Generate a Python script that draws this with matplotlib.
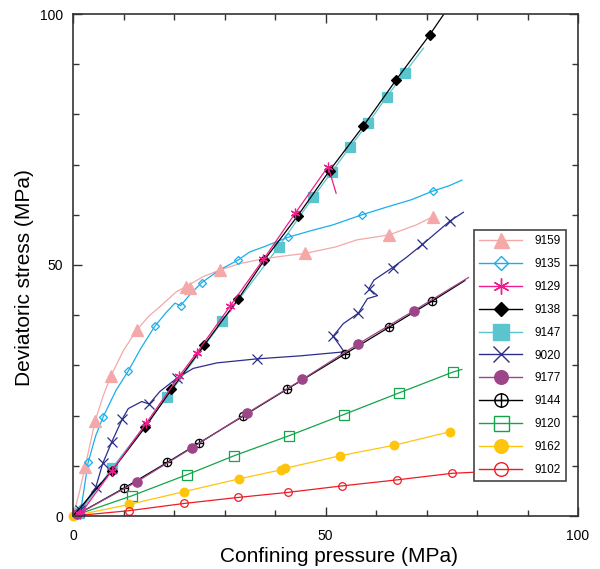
import matplotlib
matplotlib.use("Agg")
import matplotlib.pyplot as plt
from matplotlib.path import Path
from matplotlib.lines import Line2D
from matplotlib.ticker import MultipleLocator

plt.rcParams['font.family'] = ['Liberation Sans', 'DejaVu Sans']

# ---------------- data ----------------
names = ["9159", "9135", "9129", "9138", "9147", "9020", "9177", "9144", "9120", "9162", "9102"]

# 9159
l9159_x = [0, 1.2, 2.4, 4.4, 6, 7.5, 10, 12.6, 15, 17.2, 20.5, 22.4, 25.8, 29.1, 33.1, 37, 41, 45.9, 52, 56.2, 62.6, 68, 71.2]
l9159_y = [0, 4.5, 9.8, 19.0, 24, 27.9, 33, 37.0, 39.8, 41.7, 44.7, 45.7, 47.7, 49.0, 50.3, 51.1, 51.7, 52.3, 53.6, 55.0, 56.0, 58.0, 59.6]
m9159_x = [2.4, 4.4, 7.5, 12.6, 22.4, 23.2, 29.1, 45.9, 62.6, 71.2]
m9159_y = [9.8, 19.0, 27.9, 37.0, 45.7, 45.4, 49.0, 52.3, 56.0, 59.6]

# 9135
l9135_x = [0, 1.6, 3.0, 4.5, 6.0, 8.5, 10.95, 13.5, 16.2, 18.5, 20.2, 21.3, 23.5, 25.5, 29, 32.7, 35, 38, 42.5, 47, 51.5, 57.2, 62, 67, 71.2, 74.5, 77]
l9135_y = [0, 1.5, 10.7, 16, 19.8, 25, 28.9, 33.5, 37.8, 40.6, 42.4, 41.9, 44.5, 46.5, 49, 51.0, 52.6, 53.7, 55.5, 56.8, 58, 60.0, 61.5, 63, 64.7, 65.8, 66.9]
m9135_x = [1.6, 3.0, 6.0, 10.95, 16.2, 21.3, 25.5, 32.7, 42.5, 57.2, 71.2]
m9135_y = [1.5, 10.7, 19.8, 28.9, 37.8, 41.9, 46.5, 51.0, 55.5, 60.0, 64.7]

# 9129
l9129_x = [0, 1.4, 7.7, 14.5, 21.0, 24.5, 31.1, 37.7, 44.0, 50.5, 51.0, 51.6, 52.1]
l9129_y = [0, 0.3, 9.0, 18.5, 27.8, 32.5, 41.8, 51.1, 60.3, 69.6, 68.0, 66.0, 64.3]
m9129_x = [1.4, 7.7, 14.5, 21.0, 24.5, 31.1, 37.7, 44.0, 50.5]
m9129_y = [0.3, 9.0, 18.5, 27.8, 32.5, 41.8, 51.1, 60.3, 69.6]

# 9138
l9138_x = [0, 7.7, 14.3, 19.5, 26.0, 32.7, 37.9, 44.5, 50.8, 57.5, 64.0, 70.6, 74.0]
l9138_y = [0, 9.0, 17.7, 25.2, 34.1, 43.2, 51.0, 59.8, 68.8, 77.7, 86.9, 95.8, 100.8]
m9138_x = [7.7, 14.3, 19.5, 26.0, 32.7, 37.9, 44.5, 50.8, 57.5, 64.0, 70.6]
m9138_y = [9.0, 17.7, 25.2, 34.1, 43.2, 51.0, 59.8, 68.8, 77.7, 86.9, 95.8]

# 9147
l9147_x = [0, 1.2, 7.7, 18.7, 29.6, 40.7, 47.6, 51.3, 54.9, 58.5, 62.1, 65.7, 69.4]
l9147_y = [0, 0.5, 9.5, 23.8, 38.8, 53.6, 63.6, 68.6, 73.6, 78.3, 83.5, 88.3, 93.2]
m9147_x = [1.2, 7.7, 18.7, 29.6, 40.7, 47.6, 51.3, 54.9, 58.5, 62.1, 65.7]
m9147_y = [0.5, 9.5, 23.8, 38.8, 53.6, 63.6, 68.6, 73.6, 78.3, 83.5, 88.3]

# 9020
l9020_x = [0, 1.4, 3, 4.5, 5.9, 7.7, 9.8, 10.95, 13.6, 15.1, 17.2, 20.5, 23.8, 28.5, 36.4, 45, 53.7, 52.8, 51.5, 53.5, 56.5, 58.3, 60.3, 58.6, 59.6, 63.3, 66, 69.2, 72, 74.7, 77.3]
l9020_y = [0, 1.2, 3.5, 5.7, 10.5, 14.8, 19.4, 21.4, 22.8, 22.3, 24.8, 27.4, 29.4, 30.5, 31.3, 31.9, 32.7, 34.0, 35.8, 38.3, 40.4, 43.3, 43.9, 45.3, 47.0, 49.5, 51.5, 54.1, 56.5, 58.8, 60.5]
m9020_x = [1.4, 4.5, 5.9, 7.7, 9.8, 15.1, 20.5, 36.4, 51.5, 56.5, 58.6, 63.3, 69.2, 74.7]
m9020_y = [1.2, 5.7, 10.5, 14.8, 19.4, 22.3, 27.4, 31.3, 35.8, 40.4, 45.3, 49.5, 54.1, 58.8]

# 9177
l9177_x = [0, 0.8, 12.6, 23.6, 34.5, 45.4, 56.5, 67.5, 78.3]
l9177_y = [0, 0.3, 6.8, 13.6, 20.5, 27.2, 34.3, 40.9, 47.5]
m9177_x = [0.8, 12.6, 23.6, 34.5, 45.4, 56.5, 67.5]
m9177_y = [0.3, 6.8, 13.6, 20.5, 27.2, 34.3, 40.9]

# 9144
l9144_x = [0, 0.8, 10.0, 18.7, 24.9, 33.7, 42.3, 53.9, 62.6, 71.1, 77.6]
l9144_y = [0, 0.3, 5.5, 10.7, 14.5, 19.9, 25.2, 32.3, 37.6, 42.8, 46.9]
m9144_x = [0.8, 10.0, 18.7, 24.9, 33.7, 42.3, 53.9, 62.6, 71.1]
m9144_y = [0.3, 5.5, 10.7, 14.5, 19.9, 25.2, 32.3, 37.6, 42.8]

# 9120
l9120_x = [0, 11.6, 22.5, 31.9, 42.8, 53.6, 64.5, 75.3, 77.0]
l9120_y = [0, 4.0, 8.2, 12.0, 16.0, 20.2, 24.5, 28.7, 29.2]
m9120_x = [11.6, 22.5, 31.9, 42.8, 53.6, 64.5, 75.3]
m9120_y = [4.0, 8.2, 12.0, 16.0, 20.2, 24.5, 28.7]

# 9162
l9162_x = [0, 11.1, 22.0, 32.9, 41.2, 42.0, 52.9, 63.6, 74.7]
l9162_y = [0, 2.3, 4.85, 7.4, 9.2, 9.5, 12.0, 14.1, 16.8]
m9162_x = [0, 11.1, 22.0, 32.9, 41.2, 42.0, 52.9, 63.6, 74.7]
m9162_y = [0, 2.3, 4.85, 7.4, 9.2, 9.5, 12.0, 14.1, 16.8]

# 9102
l9102_x = [0, 11.1, 22.0, 32.7, 42.5, 53.3, 64.2, 75.0, 79.1]
l9102_y = [0, 1.06, 2.5, 3.7, 4.7, 6.0, 7.2, 8.5, 8.7]
m9102_x = [11.1, 22.0, 32.7, 42.5, 53.3, 64.2, 75.0]
m9102_y = [1.06, 2.5, 3.7, 4.7, 6.0, 7.2, 8.5]

line_data = [(l9159_x, l9159_y), (l9135_x, l9135_y), (l9129_x, l9129_y), (l9138_x, l9138_y),
             (l9147_x, l9147_y), (l9020_x, l9020_y), (l9177_x, l9177_y), (l9144_x, l9144_y),
             (l9120_x, l9120_y), (l9162_x, l9162_y), (l9102_x, l9102_y)]
mark_data = [(m9159_x, m9159_y), (m9135_x, m9135_y), (m9129_x, m9129_y), (m9138_x, m9138_y),
             (m9147_x, m9147_y), (m9020_x, m9020_y), (m9177_x, m9177_y), (m9144_x, m9144_y),
             (m9120_x, m9120_y), (m9162_x, m9162_y), (m9102_x, m9102_y)]

# ---------------- styles ----------------
oplus = Path.make_compound_path(
    Path.unit_circle(),
    Path([[-1, 0], [1, 0], [0, -1], [0, 1]],
         [Path.MOVETO, Path.LINETO, Path.MOVETO, Path.LINETO]))

colors = ['#F5A8A8', '#1AAEEB', '#EE1D8C', '#000000', '#5AC5CF', '#2B2E8C',
          '#9C4589', '#000000', '#12A54A', '#FFC40C', '#EE1C25']
markers = ['^', 'D', (6, 2, 0), 'D', 's', 'x', 'o', oplus, 's', 'o', 'o']
filled = [True, False, False, True, True, False, True, False, False, True, False]
msizes = [8.6, 4.0, 7.0, 4.6, 7.2, 6.5, 6.7, 6.0, 6.5, 6.2, 5.5]
leg_sizes = [10.8, 7.4, 11.5, 7.0, 12.0, 11.0, 9.8, 9.6, 10.8, 9.8, 9.8]
zords = [2, 2, 2.3, 2.2, 1.8, 2, 2.1, 2, 2, 2, 2]

fig = plt.figure(figsize=(6, 5.69), dpi=100)
ax = fig.add_axes([73 / 600, 1 - 516 / 569, 505 / 600, 502 / 569])

handles = []
for i, name in enumerate(names):
    c = colors[i]
    lx, ly = line_data[i]
    mx, my = mark_data[i]
    ax.plot(lx, ly, color=c, lw=0.9, zorder=zords[i], solid_joinstyle='round')
    mfc = c if filled[i] else 'none'
    ax.plot(mx, my, linestyle='none', marker=markers[i], ms=msizes[i],
            mfc=mfc, mec=c, mew=0.9, zorder=zords[i] + 0.05, clip_on=False)
    handles.append(Line2D([], [], color=c, lw=1.0, marker=markers[i],
                          ms=leg_sizes[i], mfc=mfc, mec=c, mew=1.0))

ax.set_xlim(0, 100)
ax.set_ylim(0, 100)
ax.xaxis.set_major_locator(MultipleLocator(50))
ax.yaxis.set_major_locator(MultipleLocator(50))
ax.xaxis.set_minor_locator(MultipleLocator(10))
ax.yaxis.set_minor_locator(MultipleLocator(10))
ax.tick_params(which='both', direction='in', top=True, right=True,
               color='#333333', labelsize=10)
ax.tick_params(which='major', length=6.5, width=1.0)
ax.tick_params(which='minor', length=4.0, width=1.0)
ax.tick_params(axis='x', which='major', pad=9)
ax.tick_params(axis='y', which='major', pad=7)
for sp in ax.spines.values():
    sp.set_color('#333333')
    sp.set_linewidth(1.2)

fig.text(25 / 600, 1 - 277.5 / 569, 'Deviatoric stress (MPa)', rotation=90,
         ha='center', va='center', fontsize=15)
fig.text(339 / 600, 1 - 561.7 / 569, 'Confining pressure (MPa)',
         ha='center', va='baseline', fontsize=15)

leg = ax.legend(handles, names, loc='upper left',
                bbox_to_anchor=((474 - 73) / 505, (516 - 230) / 502),
                borderaxespad=0, fontsize=8.5, handlelength=3.6,
                handletextpad=1.1, labelspacing=0.92, borderpad=0.45,
                fancybox=False, framealpha=1, edgecolor='#444444', numpoints=1)
leg.get_frame().set_linewidth(1.2)

fig.savefig('out.png', dpi=100)
